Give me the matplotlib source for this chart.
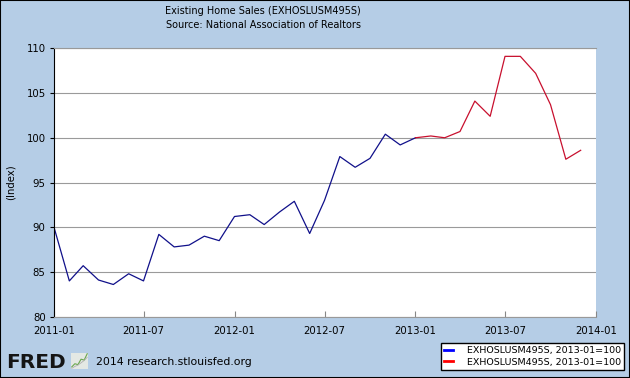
import numpy as np
import pandas as pd
import matplotlib
matplotlib.use('Agg')
from matplotlib import pyplot as plt
from matplotlib.lines import Line2D
import matplotlib.dates as mdates

# monthly index values, 2013-01 = 100
blue_dates = pd.date_range('2011-01-01', '2013-01-01', freq='MS')
blue_vals = [90.0, 84.0, 85.7, 84.1, 83.6, 84.8, 84.0, 89.2, 87.8, 88.0, 89.0, 88.5,
             91.2, 91.4, 90.3, 91.7, 92.9, 89.3, 93.0, 97.9, 96.7, 97.7, 100.4, 99.2,
             100.0]
red_dates = pd.date_range('2013-01-01', '2013-12-01', freq='MS')
red_vals = [100.0, 100.2, 100.0, 100.7, 104.1, 102.4, 109.1, 109.1, 107.2, 103.7, 97.6, 98.6]

xticks = pd.date_range('2011-01-01', '2014-01-01', freq='6MS')
yticks = [80, 85, 90, 95, 100, 105, 110]
legend_labels = ['EXHOSLUSM495S, 2013-01=100', 'EXHOSLUSM495S, 2013-01=100']

bg = '#b5cde6'
fs = 7

fig = plt.figure(figsize=(6.3, 3.78), dpi=100, facecolor=bg)
ax = fig.add_axes([54/630, 1 - 316.7/378, 542/630, 268.4/378])
ax.set_facecolor('white')

ax.plot(blue_dates, blue_vals, color='#10108a', lw=0.9)
ax.plot(red_dates, red_vals, color='#c8102e', lw=0.9)

ax.set_xlim(pd.Timestamp('2011-01-01'), pd.Timestamp('2014-01-01'))
ax.set_ylim(80, 110)
ax.set_yticks(yticks)
ax.set_xticks(xticks)
ax.xaxis.set_major_formatter(mdates.DateFormatter('%Y-%m'))
ax.yaxis.grid(True, color='#9a9a9a', lw=0.8)
ax.set_axisbelow(True)

ax.tick_params(axis='x', direction='in', length=4, color='#888888', labelsize=fs + 0.3, pad=7)
ax.tick_params(axis='y', direction='out', length=3, color='black', labelsize=fs + 0.3, pad=3)

ax.spines['left'].set_color('black')
ax.spines['left'].set_linewidth(0.8)
ax.spines['bottom'].set_color('#999999')
ax.spines['top'].set_color('#999999')
ax.spines['right'].set_visible(False)

ax.set_ylabel('(Index)', fontsize=fs + 0.3, labelpad=8)

fig.text(263/630, 1 - 11/378, 'Existing Home Sales (EXHOSLUSM495S)', ha='center', va='center', fontsize=fs)
fig.text(263/630, 1 - 25/378, 'Source: National Association of Realtors', ha='center', va='center', fontsize=fs)

# FRED branding
fig.text(6/630, 1 - 362/378, 'FRED', ha='left', va='center', fontsize=14.5, fontweight='bold',
         color='#151515')
icon = fig.add_axes([71/630, 1 - 369/378, 17/630, 16/378])
icon.set_facecolor('#e4e8e4')
icon.plot([0, 1, 2, 3, 4, 5], [0.5, 1.2, 1.0, 2.2, 2.0, 3.4], color='#6aa84f', lw=0.8)
icon.plot([0, 1, 2, 3, 4, 5], [0.2, 0.6, 0.9, 1.4, 1.9, 2.6], color='#b0b0b0', lw=0.6)
icon.set_xticks([])
icon.set_yticks([])
for s in icon.spines.values():
    s.set_visible(False)
fig.text(96/630, 1 - 362/378, '2014 research.stlouisfed.org', ha='left', va='center', fontsize=fs + 0.8)

# legend box
handles = [Line2D([0], [0], color='#0000ff', lw=2),
           Line2D([0], [0], color='#ff0000', lw=2)]
leg = fig.legend(handles, legend_labels, loc='lower right',
                 bbox_to_anchor=(624/630, 1 - 370/378), fontsize=fs - 0.2,
                 frameon=True, fancybox=False, edgecolor='black', framealpha=1,
                 handlelength=1.0, handletextpad=1.4, borderpad=0.35, borderaxespad=0,
                 labelspacing=0.3)
leg.get_frame().set_linewidth(1)

# outer border
fig.patches.append(plt.Rectangle((0, 0), 1, 1, transform=fig.transFigure, fill=False,
                                 edgecolor='black', lw=1.5))

fig.savefig('out.png', dpi=100, facecolor=bg)
